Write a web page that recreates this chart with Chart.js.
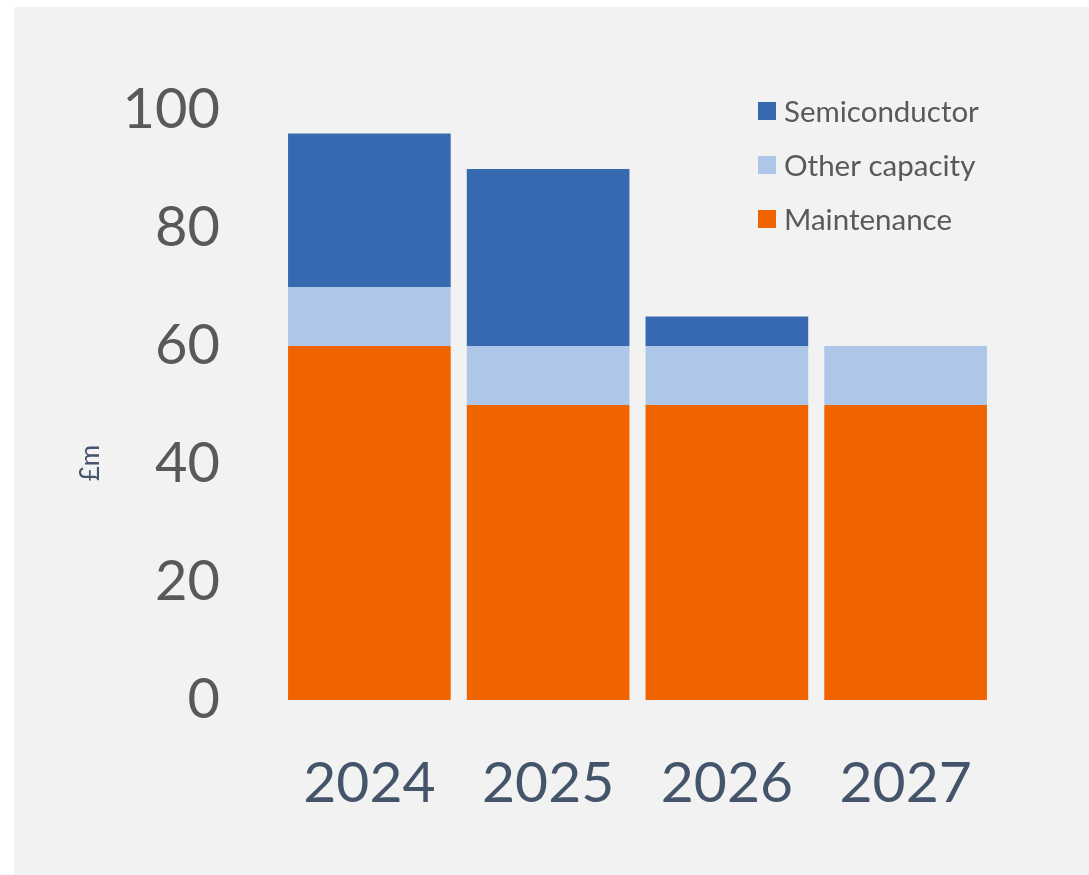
<!DOCTYPE html>
<html>
<head>
<meta charset="utf-8">
<script src="https://cdn.jsdelivr.net/npm/chart.js@4"></script>
<style>
  body { margin: 0; background: #ffffff; }
  #wrap { position: absolute; left: 14px; top: 7px; width: 1075px; height: 868px; background: #f2f2f2; }
</style>
</head>
<body>
<div id="wrap"><canvas id="chart"></canvas></div>
<script>
const years = ["2024", "2025", "2026", "2027"];
const maintenance = [60, 50, 50, 50];
const otherCapacity = [10, 10, 10, 10];
const semiconductor = [26, 30, 5, 0];
const yTicks = [0, 20, 40, 60, 80, 100];

const colMaint = "#f06400";
const colOther = "#aec6e8";
const colSemi = "#3769b0";

// legend and axis unit drawn by hand, placed like the picture
const extras = {
  id: "extras",
  afterDraw(chart) {
    const c = chart.ctx;
    const items = [
      ["Semiconductor", colSemi],
      ["Other capacity", colOther],
      ["Maintenance", colMaint]
    ];
    c.save();
    c.font = "29.5px Lato";
    c.textBaseline = "middle";
    items.forEach((it, i) => {
      const y = 104 + i * 54;
      c.fillStyle = it[1];
      c.fillRect(744, y - 9, 18, 18);
      c.fillStyle = "#595959";
      c.fillText(it[0], 770, y + 1);
    });
    // £m
    c.translate(77, 456);
    c.rotate(-Math.PI / 2);
    c.textAlign = "center";
    c.font = "26px Lato";
    c.fillStyle = "#44546a";
    c.fillText("£m", 0, 0);
    c.restore();
  }
};

new Chart(document.getElementById("chart"), {
  type: "bar",
  data: {
    labels: years,
    datasets: [
      { label: "Maintenance", data: maintenance, backgroundColor: colMaint },
      { label: "Other capacity", data: otherCapacity, backgroundColor: colOther },
      { label: "Semiconductor", data: semiconductor, backgroundColor: colSemi }
    ]
  },
  options: {
    responsive: true,
    maintainAspectRatio: false,
    animation: false,
    layout: { padding: { top: 103, right: 94, left: 0, bottom: 0 } },
    datasets: { bar: { barPercentage: 0.91, categoryPercentage: 1 } },
    plugins: { legend: { display: false }, tooltip: { enabled: false } },
    scales: {
      x: {
        stacked: true,
        grid: { display: false },
        border: { display: false },
        ticks: { color: "#44546a", font: { family: "Lato", size: 57 }, padding: 41 },
        afterFit: s => { s.height = 175; }
      },
      y: {
        stacked: true,
        min: 0,
        max: 100,
        afterBuildTicks: s => { s.ticks = yTicks.map(v => ({ value: v })); },
        grid: { display: false },
        border: { display: false },
        ticks: { color: "#595959", font: { family: "Lato", size: 56 }, padding: 52 },
        afterFit: s => { s.width = 266; }
      }
    }
  },
  plugins: [extras]
});
</script>
</body>
</html>
